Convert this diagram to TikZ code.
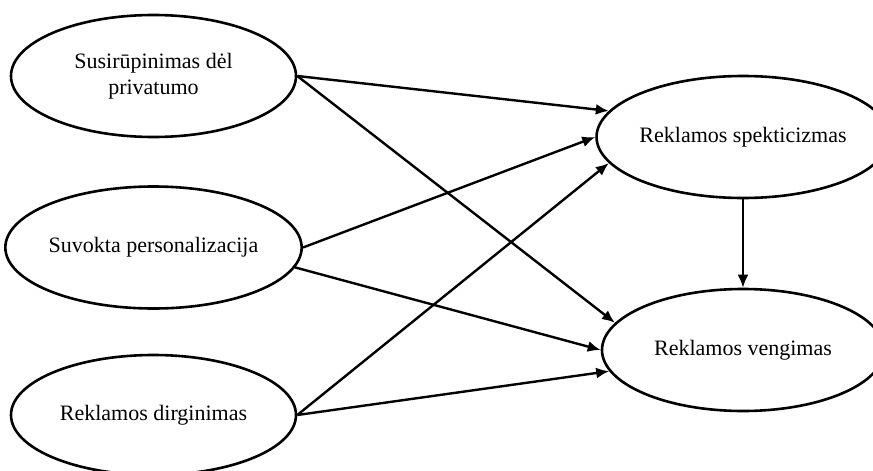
\documentclass[tikz,border=0pt]{standalone}
\usepackage{fontspec}
\setmainfont{Liberation Serif}
\usetikzlibrary{arrows.meta,shapes.geometric}
\begin{document}
\begin{tikzpicture}[x=1pt,y=-1pt,
  construct/.style={draw, ellipse, line width=2.6pt, minimum width=285pt,
    minimum height=122pt, inner sep=0pt, align=center,
    font=\fontsize{22}{26}\selectfont},
  effect/.style={line width=2.4pt, -{Latex[length=13pt,width=11pt]}}]
  \useasboundingbox (0,0) rectangle (873,471);
  \clip (0,0) rectangle (873,471);
  % exogenous constructs
  \node[construct] (priv) at (153.5,76) {Susirūpinimas dėl\\privatumo};
  \node[construct] (pers) at (153.5,247.5) {Suvokta personalizacija};
  \node[construct, minimum height=120pt] (irr) at (153.5,415) {Reklamos dirginimas};
  % endogenous constructs
  \node[construct, minimum width=282pt] (skep) at (743,137) {Reklamos spekticizmas};
  \node[construct, minimum width=282pt] (avoid) at (743,350) {Reklamos vengimas};
  % structural paths
  \draw[effect] (priv.east) -- (skep.169);
  \draw[effect] (priv.east) -- (avoid.168);
  \draw[effect] (pers.east) -- (skep.180);
  \draw[effect] (pers.-8) -- (avoid.180);
  \draw[effect] (irr.east) -- (skep.191);
  \draw[effect] (irr.east) -- (avoid.189);
  \draw[effect] (skep.south) -- (avoid.north);
\end{tikzpicture}
\end{document}
